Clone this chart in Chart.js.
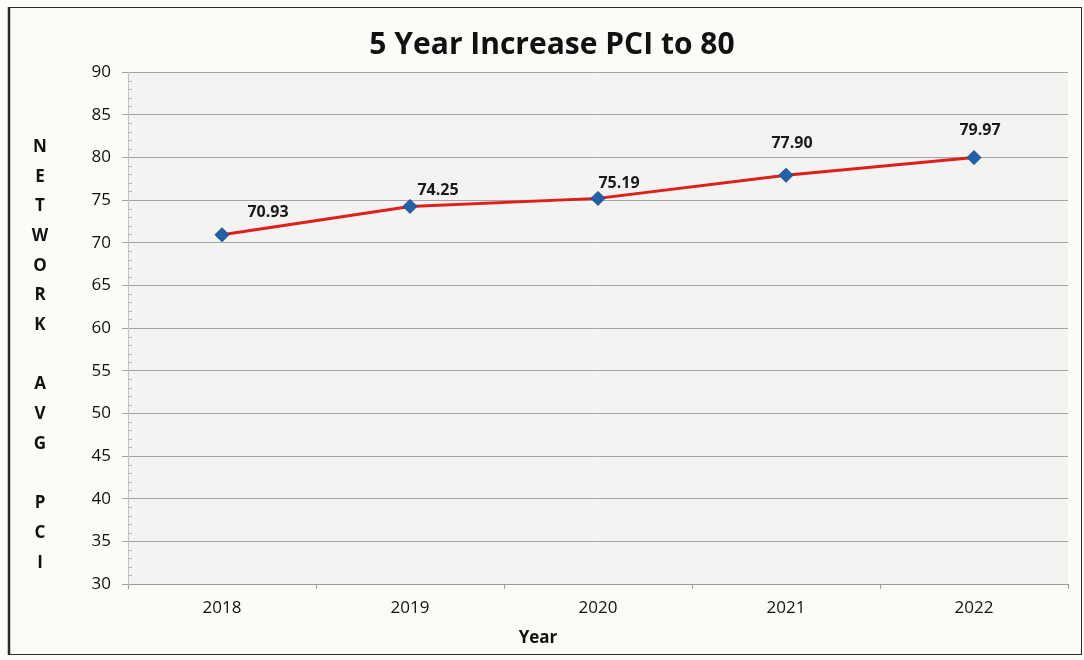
<!DOCTYPE html>
<html>
<head>
<meta charset="utf-8">
<script src="https://cdn.jsdelivr.net/npm/chart.js@4/dist/chart.umd.min.js"></script>
<style>
  html, body { margin: 0; padding: 0; background: #fbfbf8; }
  #wrap { width: 1084px; height: 660px; position: relative; }
</style>
</head>
<body>
<div id="wrap"><canvas id="c" width="1084" height="660"></canvas></div>
<script>
// Network average PCI by year
const years = ['2018', '2019', '2020', '2021', '2022'];
const pciValues = [70.93, 74.25, 75.19, 77.90, 79.97];
const yMin = 30, yMax = 90, yStep = 5;

const chartTitle = '5 Year Increase PCI to 80';
const xTitle = 'Year';
const yTitleLetters = ['N','E','T','W','O','R','K','','A','V','G','','P','C','I'];

// label placement relative to each point (dx, dy in px)
const labelOffsets = [[46, -22], [28, -16], [21, -15], [6, -32], [6, -27]];

const FONT = '"Open Sans", Lato, sans-serif';

const decor = {
  id: 'decor',
  beforeDraw(chart) {
    const { ctx, chartArea: a } = chart;
    ctx.save();
    ctx.fillStyle = '#fbfbf8';
    ctx.fillRect(0, 0, chart.width, chart.height);
    ctx.fillStyle = '#f3f3f2';
    ctx.fillRect(a.left, a.top, a.right - a.left, a.bottom - a.top);
    ctx.restore();
  },
  afterDatasetsDraw(chart) {
    const { ctx, chartArea: a, scales } = chart;
    ctx.save();
    // minor ticks along the value axis
    ctx.strokeStyle = '#b8b8b8';
    ctx.lineWidth = 1;
    for (let v = yMin; v <= yMax; v += 1) {
      if (v % yStep === 0) continue;
      const y = Math.round(scales.y.getPixelForValue(v)) + 0.5;
      ctx.beginPath();
      ctx.moveTo(a.left, y);
      ctx.lineTo(a.left + 4, y);
      ctx.stroke();
    }
    // value labels
    const meta = chart.getDatasetMeta(0);
    ctx.fillStyle = '#1a1a1a';
    ctx.font = 'bold 16px ' + FONT;
    ctx.textAlign = 'center';
    ctx.textBaseline = 'middle';
    meta.data.forEach((pt, i) => {
      const [dx, dy] = labelOffsets[i];
      ctx.fillText(pciValues[i].toFixed(2), pt.x + dx, pt.y + dy);
    });
    ctx.restore();
  },
  afterDraw(chart) {
    const { ctx } = chart;
    ctx.save();
    ctx.fillStyle = '#111';
    ctx.textAlign = 'center';
    ctx.textBaseline = 'middle';
    ctx.font = 'bold 30px ' + FONT;
    ctx.fillText(chartTitle, 552, 45);
    ctx.font = 'bold 17px ' + FONT;
    ctx.fillText(xTitle, 538, 638);
    ctx.font = 'bold 17px ' + FONT;
    yTitleLetters.forEach((ch, i) => {
      if (ch) ctx.fillText(ch, 40, 147 + i * 29.7);
    });
    // outer frame
    ctx.strokeStyle = '#2a2a2a';
    ctx.lineWidth = 1;
    ctx.strokeRect(8.5, 7.5, 1073, 647);
    ctx.lineWidth = 2.5;
    ctx.beginPath();
    ctx.moveTo(9, 7);
    ctx.lineTo(9, 655);
    ctx.stroke();
    ctx.restore();
  }
};

new Chart(document.getElementById('c'), {
  type: 'line',
  data: {
    labels: years,
    datasets: [{
      data: pciValues,
      borderColor: '#e01e1a',
      borderWidth: 3,
      pointStyle: 'rectRot',
      pointRadius: 7,
      pointHoverRadius: 7,
      pointBackgroundColor: '#2161a8',
      pointBorderColor: '#1b4f8c',
      pointBorderWidth: 1,
      tension: 0
    }]
  },
  options: {
    responsive: false,
    animation: false,
    devicePixelRatio: 1,
    layout: { padding: { top: 72, right: 16, left: 0, bottom: 0 } },
    plugins: {
      legend: { display: false },
      title: { display: false },
      tooltip: { enabled: false }
    },
    scales: {
      x: {
        type: 'category',
        offset: true,
        grid: {
          display: true,
          drawOnChartArea: false,
          drawTicks: true,
          offset: true,
          tickLength: 5,
          color: '#9a9a9a'
        },
        border: { display: true, color: '#9a9a9a', width: 1 },
        ticks: {
          color: '#111',
          font: { family: FONT, size: 17 },
          padding: 9
        },
        afterFit(scale) { scale.height = 76; }
      },
      y: {
        min: yMin,
        max: yMax,
        ticks: {
          stepSize: yStep,
          color: '#111',
          font: { family: FONT, size: 17 },
          padding: 11
        },
        grid: {
          color: '#a3a3a3',
          lineWidth: 1,
          tickLength: 6,
          drawTicks: true
        },
        border: { display: true, color: '#c4c4c4', width: 1 },
        afterFit(scale) { scale.width = 128; }
      }
    }
  },
  plugins: [decor]
});
</script>
</body>
</html>
